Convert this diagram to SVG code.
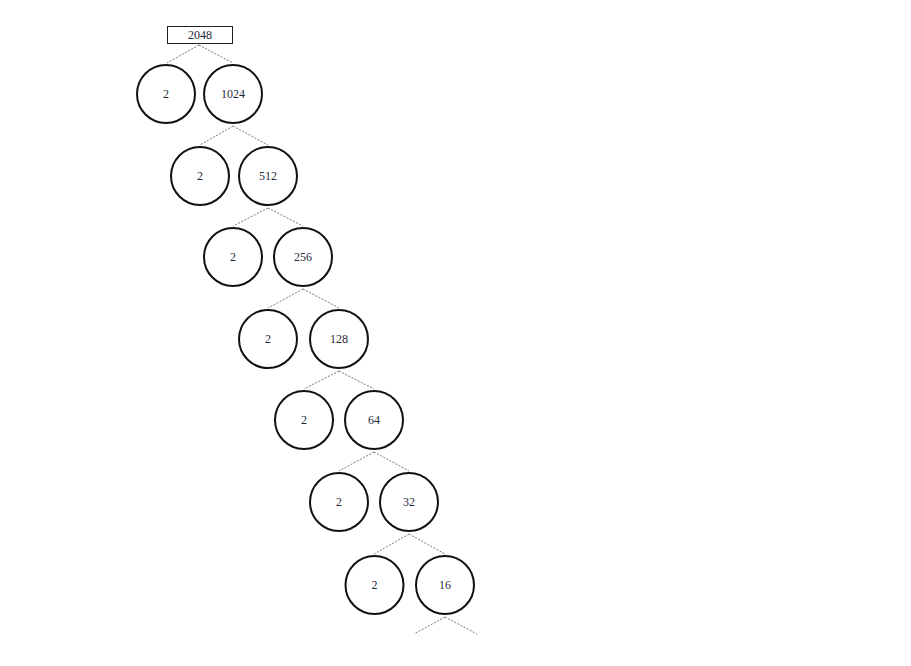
<svg xmlns="http://www.w3.org/2000/svg" width="911" height="666" viewBox="0 0 911 666">
<style>
.c{fill:#fff;stroke:#111;stroke-width:2}
.t{font-family:"Liberation Serif",serif;font-size:12px;fill:#1f2a3a;text-anchor:middle;dominant-baseline:central}
.e{stroke:#555;stroke-width:0.8;stroke-dasharray:2,1.5;fill:none}
</style>
<rect width="911" height="666" fill="#fff"/>
<g id="connectors">
<path class="e" d="M199,45 L167,63 M199,45 L233,63"/>
<path class="e" d="M233,126 L200,145 M233,126 L268,145"/>
<path class="e" d="M268,208 L233,226 M268,208 L303,226"/>
<path class="e" d="M303,289 L268,308 M303,289 L339,308"/>
<path class="e" d="M339,371 L304,389 M339,371 L374,389"/>
<path class="e" d="M374,452 L339,471 M374,452 L409,471"/>
<path class="e" d="M409,534 L374,554 M409,534 L445,554"/>
<path class="e" d="M445,617 L414,634 M445,617 L477,634"/>
</g>
<g id="n2048"><rect x="167.5" y="26.5" width="65" height="17" fill="#fff" stroke="#222" stroke-width="1"/><text class="t" x="200" y="35">2048</text></g>
<g id="n2a"><circle class="c" cx="166" cy="94" r="29"/><text class="t" x="166" y="94">2</text></g>
<g id="n1024"><circle class="c" cx="233" cy="94" r="29"/><text class="t" x="233" y="94">1024</text></g>
<g id="n2b"><circle class="c" cx="200" cy="176" r="29"/><text class="t" x="200" y="176">2</text></g>
<g id="n512"><circle class="c" cx="268" cy="176" r="29"/><text class="t" x="268" y="176">512</text></g>
<g id="n2c"><circle class="c" cx="233" cy="257" r="29"/><text class="t" x="233" y="257">2</text></g>
<g id="n256"><circle class="c" cx="303" cy="257" r="29"/><text class="t" x="303" y="257">256</text></g>
<g id="n2d"><circle class="c" cx="268" cy="339" r="29"/><text class="t" x="268" y="339">2</text></g>
<g id="n128"><circle class="c" cx="339" cy="339" r="29"/><text class="t" x="339" y="339">128</text></g>
<g id="n2e"><circle class="c" cx="304" cy="420" r="29"/><text class="t" x="304" y="420">2</text></g>
<g id="n64"><circle class="c" cx="374" cy="420" r="29"/><text class="t" x="374" y="420">64</text></g>
<g id="n2f"><circle class="c" cx="339" cy="502" r="29"/><text class="t" x="339" y="502">2</text></g>
<g id="n32"><circle class="c" cx="409" cy="502" r="29"/><text class="t" x="409" y="502">32</text></g>
<g id="n2g"><circle class="c" cx="374.5" cy="585" r="29"/><text class="t" x="374.5" y="585">2</text></g>
<g id="n16"><circle class="c" cx="445" cy="585" r="29"/><text class="t" x="445" y="585">16</text></g>
</svg>
